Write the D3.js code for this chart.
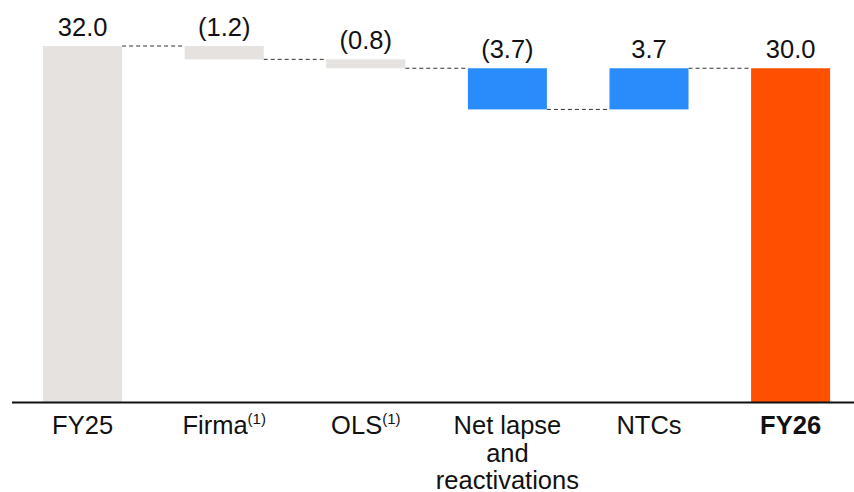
<!DOCTYPE html>
<html><head><meta charset="utf-8">
<script src="https://cdn.jsdelivr.net/npm/d3@7"></script>
<style>body{margin:0;background:#fff}svg{display:block}text{font-family:"Liberation Sans",Arial,sans-serif;fill:#111}</style>
</head><body><svg id="c" width="854" height="492"></svg>
<script>
const categories = ["FY25", "Firma", "OLS", "Net lapse and reactivations", "NTCs", "FY26"];
const labelLines = [["FY25"], ["Firma"], ["OLS"], ["Net lapse", "and", "reactivations"], ["NTCs"], ["FY26"]];
const superscripts = ["", "(1)", "(1)", "", "", ""];
const values = [32.0, -1.2, -0.8, -3.7, 3.7, 30.0];
const kinds = ["total", "delta", "delta", "delta", "delta", "total"];
const valueLabels = ["32.0", "(1.2)", "(0.8)", "(3.7)", "3.7", "30.0"];
const colors = ["#E5E2DF", "#E5E2DF", "#E5E2DF", "#2A8BFA", "#2A8BFA", "#FF5000"];

const svg = d3.select("#c");
const x = d3.scaleBand().domain(categories).range([11.8, 861.4]).paddingInner(0.442).paddingOuter(0.221);
const y = d3.scaleLinear().domain([0, 32]).range([402, 46]);

let run = 0;
const bars = categories.map((c, i) => {
  let lo, hi, end;
  if (kinds[i] === "total") { lo = 0; hi = values[i]; end = values[i]; }
  else { const s = run; end = run + values[i]; lo = Math.min(s, end); hi = Math.max(s, end); }
  run = end;
  return { c, lo, hi, end, i };
});

// connectors
for (let i = 0; i < bars.length - 1; i++) {
  const yy = y(bars[i].end);
  svg.append("line")
    .attr("x1", x(categories[i]) + x.bandwidth()).attr("x2", x(categories[i + 1]))
    .attr("y1", yy).attr("y2", yy)
    .attr("stroke", "#333").attr("stroke-width", 1).attr("stroke-dasharray", "4,3");
}

svg.selectAll("rect.bar").data(bars).enter().append("rect")
  .attr("x", d => x(d.c)).attr("width", x.bandwidth())
  .attr("y", d => y(d.hi)).attr("height", d => y(d.lo) - y(d.hi))
  .attr("fill", d => colors[d.i]);

svg.selectAll("text.val").data(bars).enter().append("text")
  .attr("x", d => x(d.c) + x.bandwidth() / 2)
  .attr("y", d => y(d.hi) - 10)
  .attr("text-anchor", "middle").attr("font-size", 25.5)
  .text(d => valueLabels[d.i]);

// axis line
svg.append("line").attr("x1", 12).attr("x2", 854).attr("y1", 402.5).attr("y2", 402.5)
  .attr("stroke", "#111").attr("stroke-width", 2);

// category labels
categories.forEach((c, i) => {
  const cx = x(c) + x.bandwidth() / 2;
  const t = svg.append("text").attr("text-anchor", "middle").attr("font-size", 25.5)
    .attr("font-weight", c === "FY26" ? "bold" : "normal");
  labelLines[i].forEach((ln, j) => {
    const ts = t.append("tspan").attr("x", cx).attr("y", 434 + j * 27.5).text(ln);
    if (j === 0 && superscripts[i]) {
      ts.append("tspan").attr("font-size", 15).attr("dy", -10).text(superscripts[i]);
    }
  });
});
</script></body></html>
